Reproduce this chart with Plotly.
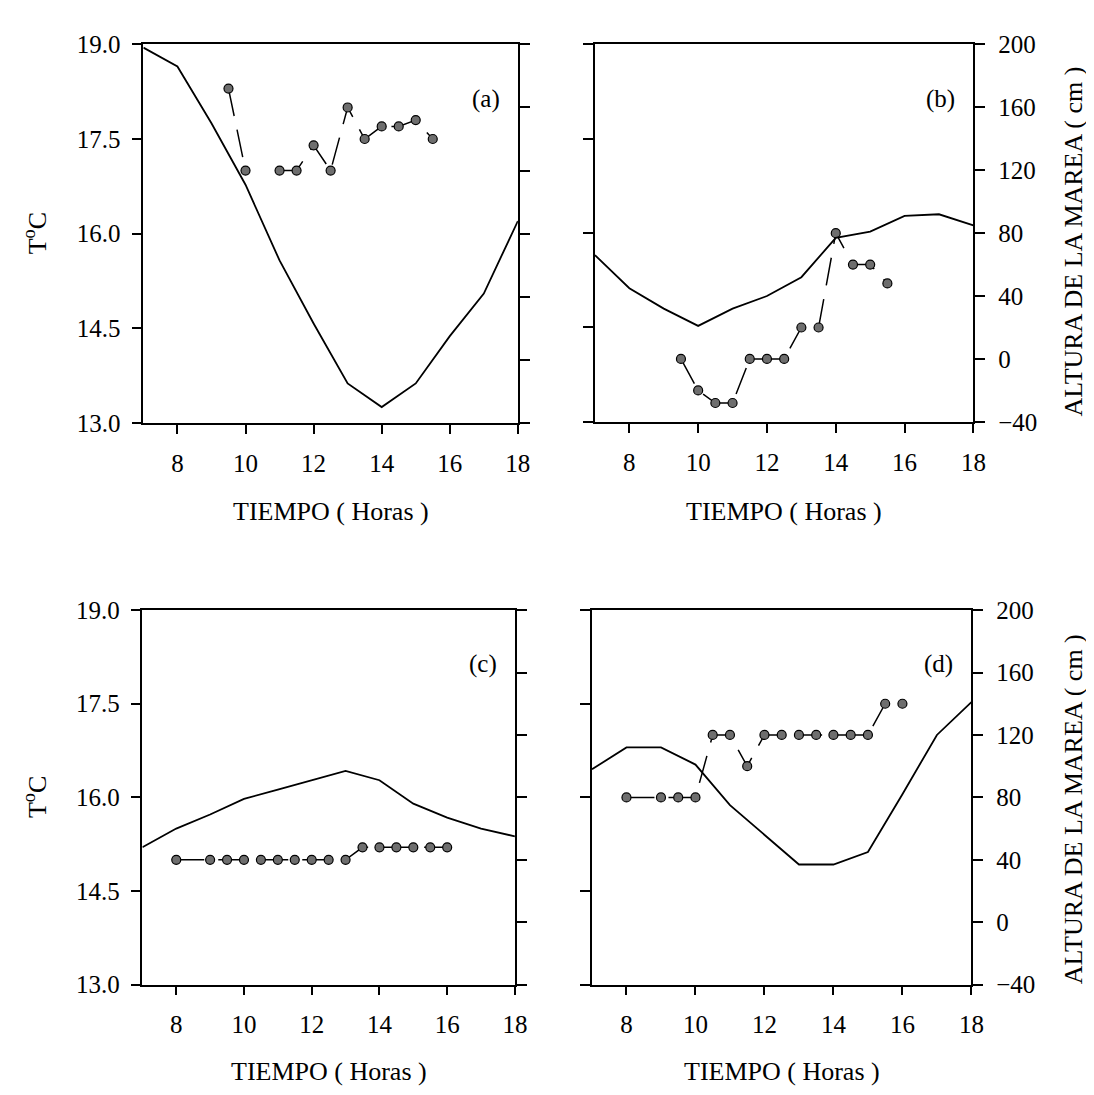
import plotly.graph_objects as go

# ---------------- data ----------------
hours_line = [7, 8, 9, 10, 11, 12, 13, 14, 15, 16, 17, 18]

tide_a = [198, 186, 150, 111, 63, 23, -15, -30, -15, 15, 42, 88]
tide_b = [66, 45, 32, 21, 32, 40, 52, 77, 81, 91, 92, 85]
tide_c = [48, 60, 69, 79, 85, 91, 97, 91, 76, 67, 60, 55]
tide_d = [98, 112, 112, 101, 75, 56, 37, 37, 45, 82, 120, 141]

hours_a = [9.5, 10, 10.5, 11, 11.5, 12, 12.5, 13, 13.5, 14, 14.5, 15, 15.5]
temp_a = [18.3, 17.0, None, 17.0, 17.0, 17.4, 17.0, 18.0, 17.5, 17.7, 17.7, 17.8, 17.5]

hours_b = [9.5, 10, 10.5, 11, 11.5, 12, 12.5, 13, 13.5, 14, 14.5, 15, 15.5]
temp_b = [14.0, 13.5, 13.3, 13.3, 14.0, 14.0, 14.0, 14.5, 14.5, 16.0, 15.5, 15.5, 15.2]

hours_c = [8, 9, 9.5, 10, 10.5, 11, 11.5, 12, 12.5, 13, 13.5, 14, 14.5, 15, 15.5, 16]
temp_c = [15.0, 15.0, 15.0, 15.0, 15.0, 15.0, 15.0, 15.0, 15.0, 15.0, 15.2, 15.2, 15.2, 15.2, 15.2, 15.2]

hours_d = [8, 9, 9.5, 10, 10.5, 11, 11.5, 12, 12.5, 13, 13.5, 14, 14.5, 15, 15.5, 16]
temp_d = [16.0, 16.0, 16.0, 16.0, 17.0, 17.0, 16.5, 17.0, 17.0, 17.0, 17.0, 17.0, 17.0, 17.0, 17.5, 17.5]

panel_labels = ["(a)", "(b)", "(c)", "(d)"]
x_ticks = [8, 10, 12, 14, 16, 18]
temp_ticks = [13.0, 14.5, 16.0, 17.5, 19.0]
tide_ticks = [-40, 0, 40, 80, 120, 160, 200]
x_title = "TIEMPO ( Horas )"
temp_title = "T<sup>o</sup>C"
tide_title = "ALTURA DE LA MAREA ( cm )"

# ---------------- layout geometry ----------------
W, H = 1094, 1095
FONT = "Liberation Serif"

panels = [
    dict(x=(137, 516), y=(24, 412), line=tide_a, hx=hours_a, t=temp_a, left_lab=True),
    dict(x=(594, 977), y=(24, 411), line=tide_b, hx=hours_b, t=temp_b, left_lab=False),
    dict(x=(136, 513), y=(604, 988), line=tide_c, hx=hours_c, t=temp_c, left_lab=True),
    dict(x=(591, 975), y=(604, 988), line=tide_d, hx=hours_d, t=temp_d, left_lab=False),
]

fig = go.Figure()
layout = dict(
    width=W, height=H,
    margin=dict(l=0, r=0, t=0, b=0),
    paper_bgcolor="white", plot_bgcolor="white",
    showlegend=False,
    font=dict(family=FONT, color="black", size=24),
)
annotations = []

axis_common = dict(showgrid=False, zeroline=False, showline=True, linecolor="black",
                   linewidth=1.5, ticks="outside", tickcolor="black", tickwidth=1.5,
                   tickfont=dict(family=FONT, size=25, color="black"))

for i, p in enumerate(panels):
    n = i + 1
    xname = "x" if n == 1 else f"x{n}"
    yl = 2 * i + 1
    yr = 2 * i + 2
    ylname = "y" if yl == 1 else f"y{yl}"
    yrname = f"y{yr}"
    xd = [p["x"][0] / W, p["x"][1] / W]
    yd = [1 - p["y"][1] / H, 1 - p["y"][0] / H]

    layout["xaxis" if n == 1 else f"xaxis{n}"] = dict(
        axis_common, domain=xd, range=[7, 18], tickvals=x_ticks, ticklen=9,
        mirror=True, anchor=ylname, ticklabelstandoff=8)
    layout["yaxis" if yl == 1 else f"yaxis{yl}"] = dict(
        axis_common, domain=yd, range=[13, 19], tickvals=temp_ticks, tickformat=".1f",
        ticklen=10, anchor=xname, showticklabels=p["left_lab"], ticklabelstandoff=6)
    layout[f"yaxis{yr}"] = dict(
        axis_common, domain=yd, range=[-40, 200], tickvals=tide_ticks, ticklen=10,
        anchor=xname, overlaying=ylname, side="right",
        showticklabels=not p["left_lab"], ticklabelstandoff=8)

    # solid line (tide) on right axis
    fig.add_trace(go.Scatter(x=hours_line, y=p["line"], mode="lines",
                             line=dict(color="black", width=1.8),
                             xaxis=xname, yaxis=yrname, hoverinfo="skip"))
    # dashed line with markers (temperature) on left axis
    fig.add_trace(go.Scatter(x=p["hx"], y=p["t"], mode="lines+markers",
                             line=dict(color="black", width=1.5, dash="28px,14px"),
                             marker=dict(symbol="circle", size=9, color="#6e6e6e",
                                         line=dict(color="black", width=1.2)),
                             connectgaps=False,
                             xaxis=xname, yaxis=ylname, hoverinfo="skip"))

    # panel label
    annotations.append(dict(text=panel_labels[i], x=17.05, y=18.13, xref=xname, yref=ylname,
                            showarrow=False, font=dict(family=FONT, size=25, color="black")))
    # x title
    xc = (p["x"][0] + p["x"][1]) / 2 / W
    ty = 503 if i < 2 else 1077
    annotations.append(dict(text=x_title, x=xc, y=1 - ty / H, xref="paper", yref="paper",
                            showarrow=False, xanchor="center", yanchor="middle",
                            font=dict(family=FONT, size=26, color="black")))

# y titles
for yc in (218, 796):
    annotations.append(dict(text=temp_title, x=28 / W, y=1 - yc / H, xref="paper", yref="paper",
                            showarrow=False, textangle=-90, xanchor="center", yanchor="middle",
                            font=dict(family=FONT, size=26, color="black")))
for yc in (226, 808):
    annotations.append(dict(text=tide_title, x=1078 / W, y=1 - yc / H, xref="paper", yref="paper",
                            showarrow=False, textangle=-90, xanchor="center", yanchor="middle",
                            font=dict(family=FONT, size=26, color="black")))

layout["annotations"] = annotations
fig.update_layout(**layout)
fig.write_html("out.html")
